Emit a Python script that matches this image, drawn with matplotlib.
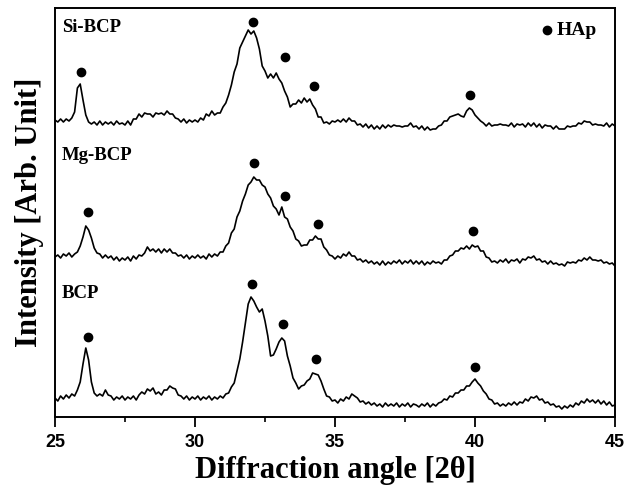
import numpy as np
import matplotlib
matplotlib.use("Agg")
import matplotlib.pyplot as plt
from matplotlib.ticker import MultipleLocator
from matplotlib import font_manager

# 2-theta grid (degrees), 0.1 deg step
two_theta = np.round(np.arange(25.0, 45.0001, 0.1), 1)

# Measured intensities (arb. units), one value per grid point
bcp = [
    19, 16, 21, 18, 22, 19, 23, 21, 27, 35,
    53, 69, 57, 35, 24, 21, 23, 21, 27, 22,
    21, 17, 20, 18, 21, 17, 20, 18, 21, 17,
    22, 25, 23, 28, 26, 29, 23, 25, 22, 27,
    27, 31, 29, 28, 22, 21, 18, 21, 17, 20,
    18, 21, 17, 20, 18, 21, 17, 20, 18, 21,
    19, 23, 24, 30, 34, 46, 58, 75, 94, 113,
    120, 116, 110, 105, 108, 96, 81, 61, 62, 68,
    75, 79, 76, 61, 51, 39, 34, 28, 31, 32,
    36, 38, 44, 43, 42, 36, 28, 21, 20, 16,
    17, 14, 18, 16, 20, 18, 23, 21, 19, 15,
    16, 13, 15, 12, 14, 11, 13, 10, 14, 11,
    13, 11, 14, 10, 13, 11, 14, 10, 13, 12,
    10, 13, 11, 14, 10, 13, 11, 14, 15, 18,
    17, 21, 20, 24, 24, 27, 27, 31, 31, 35,
    38, 34, 31, 26, 23, 18, 17, 13, 14, 11,
    13, 11, 14, 12, 15, 12, 15, 14, 18, 16,
    20, 19, 21, 17, 18, 14, 15, 12, 13, 10,
    11, 8, 11, 9, 12, 10, 14, 12, 16, 14,
    18, 15, 17, 14, 17, 13, 16, 12, 15, 11,
    12,
]

mg_bcp = [
    20, 22, 19, 23, 21, 24, 20, 23, 25, 31,
    40, 51, 47, 39, 29, 24, 23, 19, 22, 19,
    21, 17, 20, 16, 19, 17, 20, 16, 21, 18,
    22, 21, 24, 30, 26, 28, 25, 28, 24, 28,
    25, 28, 24, 24, 21, 22, 19, 22, 18, 21,
    19, 22, 19, 21, 18, 23, 20, 23, 21, 25,
    25, 31, 34, 44, 48, 60, 66, 76, 83, 92,
    95, 100, 97, 97, 92, 90, 83, 79, 71, 68,
    62, 70, 60, 58, 50, 46, 38, 36, 31, 32,
    32, 37, 37, 41, 38, 38, 30, 27, 22, 21,
    18, 21, 19, 23, 21, 25, 21, 21, 17, 18,
    15, 17, 14, 16, 13, 15, 12, 16, 12, 15,
    13, 16, 14, 17, 13, 16, 14, 17, 13, 16,
    13, 16, 12, 15, 13, 16, 14, 15, 13, 17,
    17, 21, 22, 26, 26, 29, 28, 31, 28, 32,
    30, 31, 26, 26, 20, 19, 15, 16, 14, 17,
    15, 18, 14, 17, 16, 18, 14, 18, 17, 20,
    19, 21, 17, 18, 15, 16, 13, 16, 13, 14,
    12, 13, 11, 15, 14, 15, 14, 17, 16, 19,
    17, 20, 17, 17, 16, 17, 14, 15, 13, 14,
    11,
]

si_bcp = [
    22, 20, 23, 20, 23, 21, 24, 30, 54, 58,
    42, 27, 20, 18, 20, 17, 21, 17, 20, 18,
    20, 17, 21, 18, 19, 17, 21, 17, 23, 23,
    28, 25, 29, 28, 28, 25, 29, 28, 29, 27,
    31, 28, 28, 24, 23, 20, 23, 19, 22, 20,
    22, 20, 24, 22, 28, 26, 31, 27, 29, 29,
    35, 39, 47, 57, 70, 78, 94, 100, 106, 112,
    108, 111, 104, 93, 76, 71, 64, 68, 64, 69,
    63, 59, 51, 45, 35, 38, 38, 42, 39, 44,
    40, 43, 37, 33, 25, 25, 19, 20, 18, 21,
    20, 22, 20, 23, 20, 24, 21, 21, 17, 18,
    15, 18, 14, 17, 13, 16, 13, 17, 14, 17,
    15, 17, 16, 16, 15, 16, 16, 19, 15, 16,
    13, 16, 12, 15, 12, 13, 13, 16, 17, 21,
    21, 25, 26, 27, 28, 26, 25, 31, 34, 32,
    27, 24, 21, 19, 16, 19, 16, 17, 17, 18,
    17, 17, 16, 19, 15, 18, 17, 18, 15, 19,
    16, 19, 15, 18, 14, 17, 16, 16, 13, 16,
    13, 13, 13, 16, 15, 16, 16, 19, 18, 21,
    20, 20, 17, 18, 17, 17, 16, 19, 15, 18,
    16,
]

sample_names = ["BCP", "Mg-BCP", "Si-BCP"]
patterns = [bcp, mg_bcp, si_bcp]

# HAp reflections marked on each pattern: 2-theta and marker height
hap_2theta = {
    "BCP":    [26.17, 32.05, 33.15, 34.31, 40.00],
    "Mg-BCP": [26.17, 32.12, 33.23, 34.40, 39.94],
    "Si-BCP": [25.93, 32.06, 33.21, 34.25, 39.82],
}
hap_height = {
    "BCP":    [80, 133, 93, 58, 50],
    "Mg-BCP": [65, 114, 81, 53, 46],
    "Si-BCP": [70, 120, 85, 56, 47],
}

# vertical stacking of the patterns
offsets = {"BCP": 0, "Mg-BCP": 140, "Si-BCP": 275}

available = {f.name for f in font_manager.fontManager.ttflist}
serif = "Liberation Serif"
tick_font = "Liberation Sans Narrow" if "Liberation Sans Narrow" in available else "Liberation Sans"

fig = plt.figure(figsize=(6.25, 4.93), dpi=100)
ax = fig.add_axes([55 / 625, 76 / 493, 560 / 625, 409 / 493])

for name, y in zip(sample_names, patterns):
    off = offsets[name]
    ax.plot(two_theta, np.asarray(y) + off, color="black", lw=1.2)
    ax.plot(hap_2theta[name], np.asarray(hap_height[name]) + off, "o",
            color="black", ms=6, ls="none")

# sample labels
label_y = {"Si-BCP": 390, "Mg-BCP": 262, "BCP": 124}
for name in sample_names:
    ax.text(25.25, label_y[name], name, fontsize=13.5, fontweight="bold",
            family=serif, va="center", ha="left")

# legend for the phase marker
ax.plot([42.58], [387], "o", color="black", ms=6)
ax.text(42.92, 387, "HAp", fontsize=14, fontweight="bold", family=serif,
        va="center", ha="left")

ax.set_xlim(25, 45)
ax.set_ylim(0, 409)
ax.set_yticks([])
ax.xaxis.set_major_locator(MultipleLocator(5))
ax.xaxis.set_minor_locator(MultipleLocator(2.5))
ax.tick_params(axis="x", which="major", direction="out", length=7, width=1.3,
               labelsize=13, pad=5)
ax.tick_params(axis="x", which="minor", direction="out", length=3.5, width=1.2)
for lab in ax.get_xticklabels():
    lab.set_fontweight("bold")
    lab.set_family(tick_font)
for sp in ax.spines.values():
    sp.set_linewidth(1.4)

ax.set_xlabel("Diffraction angle [2θ]", fontsize=22, fontweight="bold",
              family=serif, labelpad=4)
ax.set_ylabel("Intensity [Arb. Unit]", fontsize=22, fontweight="bold",
              family=serif, labelpad=8)

fig.savefig("out.png", dpi=100)
